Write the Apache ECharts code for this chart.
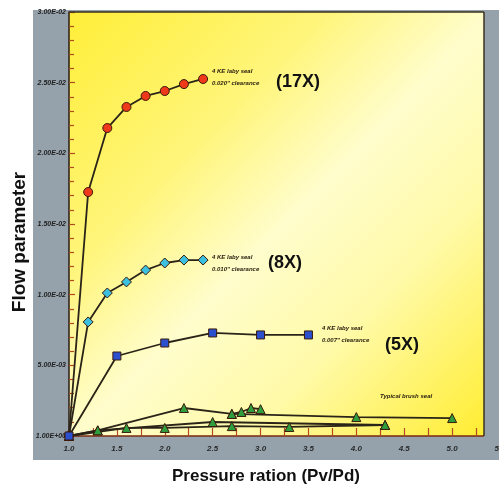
<!DOCTYPE html>
<html><head><meta charset="utf-8">
<script src="https://cdn.jsdelivr.net/npm/echarts@6/dist/echarts.min.js"></script>
<style>html,body{margin:0;padding:0;background:#fff}#c{width:499px;height:489px}</style>
</head><body><div id="c"></div>
<script>
// ---- data ----
const seal17x = [[1.0,0],[1.2,0.01726],[1.4,0.02179],[1.6,0.02328],[1.8,0.02406],[2.0,0.02441],[2.2,0.0249],[2.4,0.02526]];
const seal8x  = [[1.0,0],[1.2,0.00807],[1.4,0.01012],[1.6,0.0109],[1.8,0.01174],[2.0,0.01224],[2.2,0.01245],[2.4,0.01245]];
const seal5x  = [[1.0,0],[1.5,0.00566],[2.0,0.00658],[2.5,0.00729],[3.0,0.00715],[3.5,0.00715]];
const brushA  = [[1.0,0],[1.3,0.0004],[2.2,0.00198],[2.7,0.00156],[4.0,0.00134],[5.0,0.00127]];
const brushB  = [[2.7,0.00156],[2.8,0.0017],[2.9,0.00198],[3.0,0.0019]];
const brushC  = [[1.0,0],[1.3,0.0004],[2.5,0.00099],[4.3,0.00078]];
const brushD  = [[1.0,0],[1.6,0.00057],[2.0,0.00057],[2.7,0.0007],[3.3,0.00064],[4.3,0.00078]];
const yTickLabels = ['1.00E+00','5.00E-03','1.00E-02','1.50E-02','2.00E-02','2.50E-02','3.00E-02'];
const annot17 = ['4 KE laby seal','0.020" clearance'];
const annot8  = ['4 KE laby seal','0.010" clearance'];
const annot5  = ['4 KE laby seal','0.007" clearance'];
const annotBrush = 'Typical brush seal';
const tag17 = '(17X)', tag8 = '(8X)', tag5 = '(5X)';
const xTitle = 'Pressure ration (Pv/Pd)';
const yTitle = 'Flow parameter';

const chart = echarts.init(document.getElementById('c'), null, {renderer:'canvas'});
const lineStyle = {color:'#2a2418', width:1.8};
function mk(name, data, symbol, color, size){
  return {name, type:'line', data, symbol, symbolSize:size, showAllSymbol:true,
    lineStyle, itemStyle:{color, borderColor:'#3a1a0a', borderWidth:1}, z:3};
}
const smallFont = {fontFamily:'Liberation Sans Narrow, Liberation Sans, sans-serif', fontStyle:'italic', fontWeight:'bold', fontSize:6, fill:'#2a2010'};
function annot(x,y,lines){
  return {type:'text', left:x, top:y, z:50, style:Object.assign({text:lines.join('\n'), lineHeight:12}, smallFont)};
}
function tag(x,y,t){
  return {type:'text', left:x, top:y, z:50, style:{text:t, fontFamily:'Liberation Sans, Arial, sans-serif', fontWeight:'bold', fontSize:18, fill:'#111'}};
}
chart.setOption({
  animation:false,
  backgroundColor:'#ffffff',
  grid:{left:69, top:12, width:431, height:424, show:true, borderWidth:0, containLabel:false, outerBoundsMode:'none',
    backgroundColor:new echarts.graphic.LinearGradient(0,0,1,1,[
      {offset:0,color:'#FFEE38'},{offset:0.3,color:'#FFF57A'},{offset:0.5,color:'#FFFDCC'},
      {offset:0.7,color:'#FFFAA8'},{offset:1,color:'#FFEC2A'}])},
  xAxis:{type:'value', min:1, max:5.5, interval:0.5,
    axisLine:{lineStyle:{color:'#7a2a10', width:1.5}},
    axisTick:{inside:true, length:8, lineStyle:{color:'#b04a20', width:1.2}},
    minorTick:{show:true, splitNumber:2, length:8, lineStyle:{color:'#b04a20', width:1.2}},
    splitLine:{show:false},
    axisLabel:{margin:9, formatter:v=>v.toFixed(1), fontFamily:'Liberation Sans Narrow, Liberation Sans, sans-serif', fontStyle:'italic', fontWeight:'bold', fontSize:8, color:'#2a2a2a'}},
  yAxis:{type:'value', min:0, max:0.03, interval:0.005,
    axisLine:{lineStyle:{color:'#2a1a10', width:1.5}},
    axisTick:{inside:true, length:6, lineStyle:{color:'#b04a20', width:1.2}},
    minorTick:{show:true, splitNumber:5, length:5, lineStyle:{color:'#b04a20', width:1.2}},
    splitLine:{show:false},
    axisLabel:{margin:3, formatter:v=>yTickLabels[Math.round(v/0.005)], fontFamily:'Liberation Sans Narrow, Liberation Sans, sans-serif', fontStyle:'italic', fontWeight:'bold', fontSize:7, color:'#222'}},
  graphic:[
    {type:'rect', shape:{x:33,y:10,width:466,height:450}, style:{fill:'#95a2ab'}, z:-10},
    {type:'rect', shape:{x:484,y:10,width:15,height:427}, style:{fill:'#95a2ab'}, z:40},
    {type:'line', shape:{x1:69,y1:12,x2:484,y2:12}, style:{stroke:'#3a3020', lineWidth:1.5}, z:41},
    {type:'line', shape:{x1:484,y1:12,x2:484,y2:436}, style:{stroke:'#3a3020', lineWidth:1.5}, z:41},
    annot(212,65,annot17), tag(276,73,tag17),
    annot(212,251,annot8), tag(268,254,tag8),
    annot(322,322,annot5), tag(385,336,tag5),
    {type:'text', left:380, top:393, z:50, style:Object.assign({text:annotBrush}, smallFont)},
    {type:'text', left:172, top:468, z:50, style:{text:xTitle, fontFamily:'Liberation Sans, Arial, sans-serif', fontWeight:'bold', fontSize:17, fill:'#111'}},
    {type:'text', x:20, y:242, rotation:Math.PI/2, z:50, style:{text:yTitle, align:'center', verticalAlign:'middle', fontFamily:'Liberation Sans, Arial, sans-serif', fontWeight:'bold', fontSize:19, fill:'#111'}}
  ],
  series:[
    mk('brushA',brushA,'triangle','#2f9e3e',9),
    mk('brushB',brushB,'triangle','#2f9e3e',9),
    mk('brushC',brushC,'triangle','#2f9e3e',9),
    mk('brushD',brushD,'triangle','#2f9e3e',9),
    mk('17X',seal17x,'circle','#ee3a1a',9),
    mk('8X',seal8x,'diamond','#3cc0e0',10),
    mk('5X',seal5x,'rect','#2a50d0',8)
  ]
});
</script></body></html>
